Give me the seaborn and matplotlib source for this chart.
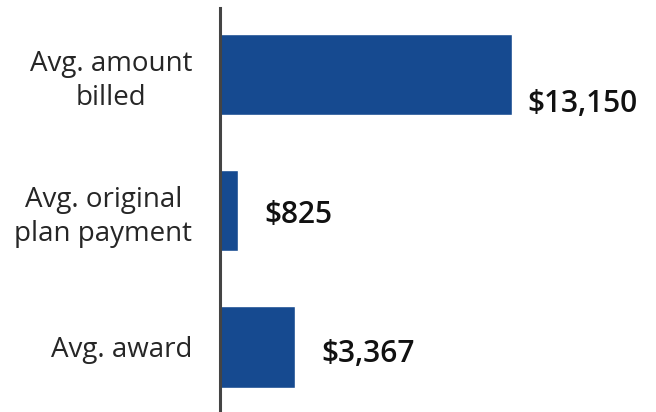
import numpy as np
import matplotlib
matplotlib.use("Agg")
import matplotlib.pyplot as plt
import seaborn as sns
import pandas as pd

categories = ["Avg. amount\nbilled", "Avg. original\nplan payment", "Avg. award"]
values = [13150, 825, 3367]
value_labels = ["$13,150", "$825", "$3,367"]

sns.set_style("white")
plt.rcParams['font.family'] = ['Open Sans', 'DejaVu Sans']

df = pd.DataFrame({"category": categories, "value": values})

fig = plt.figure(figsize=(6.56, 4.12), dpi=100)
ax = fig.add_axes([220 / 656, 0, 436 / 656, 404 / 412])

sns.barplot(data=df, x="value", y="category", orient="h", color="#164a90",
            saturation=1, width=0.6, ax=ax)

ax.set_xlim(0, 19650)
ax.set_ylim(2.48, -0.49)
ax.set_xlabel("")
ax.set_ylabel("")
ax.set_xticks([])
for s in ["top", "right", "bottom"]:
    ax.spines[s].set_visible(False)
ax.spines["left"].set_color("#444444")
ax.spines["left"].set_linewidth(2.2)
ax.tick_params(axis="y", length=0, pad=20, labelsize=20)
for t in ax.get_yticklabels():
    t.set_multialignment("center")
    t.set_linespacing(1.3)

# offsets (points) for value labels
offsets = [(11, -21), (19, -3), (19, -5)]
for i, (v, lab) in enumerate(zip(values, value_labels)):
    ax.annotate(lab, xy=(v, i), xytext=offsets[i], textcoords="offset points",
                ha="left", va="center", fontsize=21.5, fontweight="semibold",
                color="#111111")

fig.savefig("out.png", dpi=100)
